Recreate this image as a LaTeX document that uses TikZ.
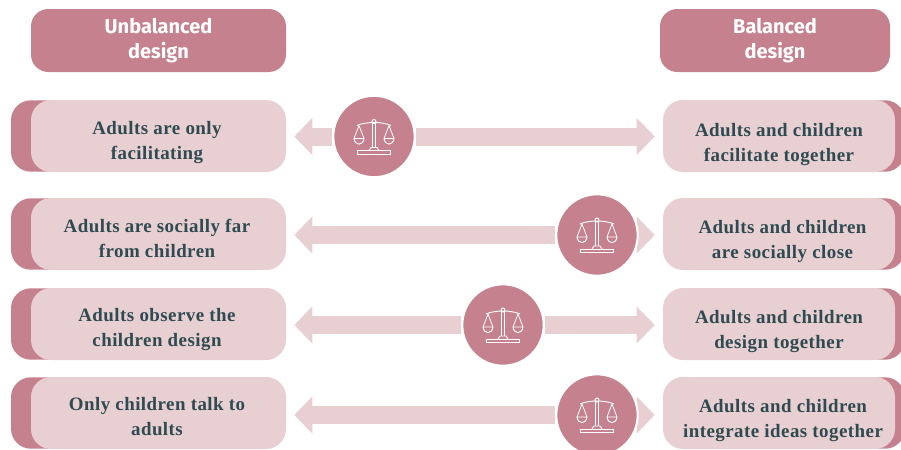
\documentclass[tikz,border=0pt]{standalone}
\usepackage{fontspec}
\usepackage{tikz}
\usetikzlibrary{arrows.meta, backgrounds}
\newfontfamily\headfont{Fira Sans}
\newfontfamily\rowfont[LetterSpace=2.4]{Liberation Serif}
\definecolor{rosedark}{HTML}{C5818D}
\definecolor{roselight}{HTML}{E8CFD2}
\definecolor{slatetext}{HTML}{2F4A50}
\tikzset{
  headbox/.style={rectangle,rounded corners=13pt,fill=rosedark,text=white,minimum height=47.25pt,inner sep=0pt,align=center,font=\headfont\fontsize{15}{19}\selectfont\bfseries},
  rowbox/.style={rectangle,rounded corners=15pt,fill=roselight,minimum height=54pt,inner sep=0pt},
  rowtext/.style={anchor=base,text=slatetext,inner sep=0pt,align=center,font=\rowfont\fontsize{14.2}{18.75}\selectfont\bfseries},
  backbox/.style={rectangle,rounded corners=15pt,fill=rosedark,minimum height=53.6pt,minimum width=60pt,inner sep=0pt},
  scalecirc/.style={circle,fill=rosedark,draw=white,line width=1.5pt,minimum size=61pt,inner sep=0pt},
  fatarrow/.style={roselight,line width=13.5pt,shorten >=6pt,-{Triangle[length=13.5pt,width=27pt]}},
  pics/scales/.style={code={
    \draw[white,line width=0.7pt,line join=round] (-1.5,-14) -- (-1.5,11) (1.5,-14) -- (1.5,11);
    \draw[white,fill=rosedark,line width=0.7pt] (0,-15) circle (2);
    \draw[white,line width=0.7pt] (-17,-11) .. controls (-8,-15) and (8,-15) .. (17,-11);
    \draw[white,line width=0.7pt] (-5,14) -- (-3,11) -- (3,11) -- (5,14);
    \draw[white,line width=0.7pt] (-16.5,14) rectangle (16.5,17.5);
    \draw[white,line width=0.6pt,line join=round] (-15,-11) -- (-20,2) -- (-10,2) -- cycle;
    \draw[white,line width=0.7pt] (-20,2) .. controls (-19,9.5) and (-11,9.5) .. (-10,2);
    \draw[white,line width=0.6pt,line join=round] (15,-11) -- (20,2) -- (10,2) -- cycle;
    \draw[white,line width=0.7pt] (20,2) .. controls (19,9.5) and (11,9.5) .. (10,2);
  }}
}

\begin{document}
\begin{tikzpicture}[x=0.75pt,y=-0.75pt]
\useasboundingbox (0,0) rectangle (901,450);

\node[headbox,minimum width=191.25pt] (headU) at (158.5,40.5) {Unbalanced\\design};
\node[headbox,minimum width=172.5pt] (headB) at (775,40.5) {Balanced\\design};

\node[backbox] (backL1) at (51,136) {};
\node[rowbox,minimum width=191.25pt] (left1) at (158.5,136) {};
\node[rowtext] (textL1) at (157,159) {Adults are only\\facilitating};
\node[backbox] (backR1) at (865,136) {};
\node[rowbox,minimum width=174pt] (right1) at (779,136) {};
\node[rowtext] (textR1) at (779,161) {Adults and children\\facilitate together};
\node[scalecirc] (scale1) at (374,136.5) {};
\pic at (scale1) {scales};

\node[backbox] (backL2) at (51,234) {};
\node[rowbox,minimum width=191.25pt] (left2) at (158.5,234) {};
\node[rowtext] (textL2) at (157,257) {Adults are socially far\\from children};
\node[backbox] (backR2) at (865,234) {};
\node[rowbox,minimum width=174pt] (right2) at (779,234) {};
\node[rowtext] (textR2) at (782.5,258) {Adults and children\\are socially close};
\node[scalecirc] (scale2) at (597,235) {};
\pic at (scale2) {scales};

\node[backbox] (backL3) at (51,324) {};
\node[rowbox,minimum width=191.25pt] (left3) at (158.5,324) {};
\node[rowtext] (textL3) at (157,346) {Adults observe the\\children design};
\node[backbox] (backR3) at (865,324) {};
\node[rowbox,minimum width=174pt] (right3) at (779,324) {};
\node[rowtext] (textR3) at (779,348) {Adults and children\\design together};
\node[scalecirc] (scale3) at (503,325) {};
\pic at (scale3) {scales};

\node[backbox] (backL4) at (51,413) {};
\node[rowbox,minimum width=191.25pt] (left4) at (158.5,413) {};
\node[rowtext] (textL4) at (157,435) {Only children talk to\\adults};
\node[backbox] (backR4) at (865,413) {};
\node[rowbox,minimum width=174pt] (right4) at (779,413) {};
\node[rowtext] (textR4) at (783,437) {Adults and children\\integrate ideas together};
\node[scalecirc] (scale4) at (597,415) {};
\pic at (scale4) {scales};

\begin{scope}[on background layer]
\draw[fatarrow] (scale1.west) -- (scale1.west -| left1.east);
\draw[fatarrow] (scale1.east) -- (scale1.east -| right1.west);
\draw[fatarrow] (scale2.west) -- (scale2.west -| left2.east);
\draw[fatarrow] (scale2.east) -- (scale2.east -| right2.west);
\draw[fatarrow] (scale3.west) -- (scale3.west -| left3.east);
\draw[fatarrow] (scale3.east) -- (scale3.east -| right3.west);
\draw[fatarrow] (scale4.west) -- (scale4.west -| left4.east);
\draw[fatarrow] (scale4.east) -- (scale4.east -| right4.west);
\end{scope}

\end{tikzpicture}
\end{document}
